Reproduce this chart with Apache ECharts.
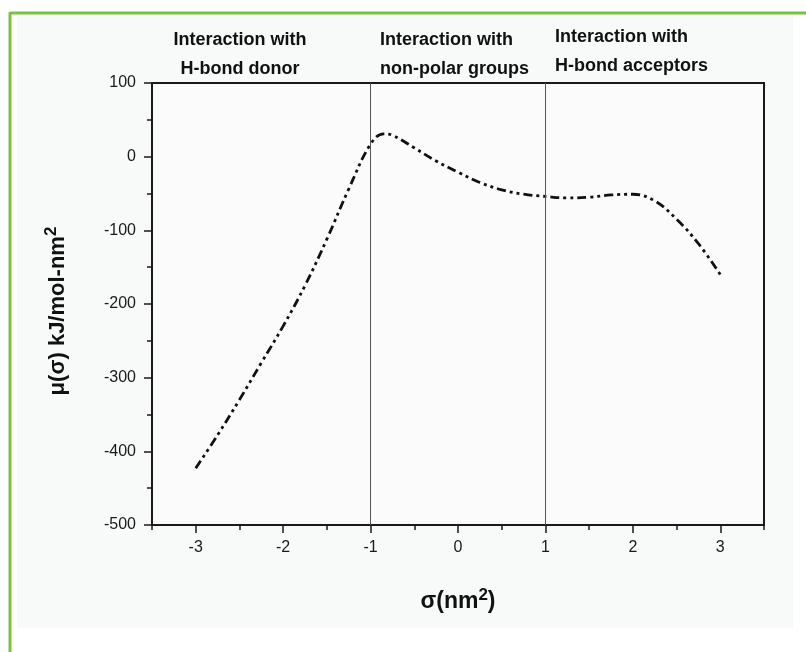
<!DOCTYPE html>
<html>
<head>
<meta charset="utf-8">
<script src="https://cdn.jsdelivr.net/npm/echarts@6/dist/echarts.min.js"></script>
<style>
html,body{margin:0;padding:0;background:#fff;}
#chart{width:806px;height:652px;}
</style>
</head>
<body>
<div id="chart"></div>
<script>
// sigma values (nm^2)
const sigma = [-3, -2.75, -2.5, -2.25, -2, -1.75, -1.5, -1.25, -1, -0.85, -0.75, -0.5, -0.25, 0, 0.25, 0.5, 0.75, 1, 1.25, 1.5, 1.75, 2, 2.25, 2.5, 2.75, 3];
// mu(sigma) kJ/mol-nm^2
const mu = [-423, -378, -330, -280, -230, -175, -112, -44, 17, 31, 29, 12, -6, -21, -35, -45, -51, -54, -56, -55, -52, -51, -60, -85, -118, -160];
const xMajorTicks = [-3, -2, -1, 0, 1, 2, 3];
const xMinorTicks = [-3.5, -2.5, -1.5, -0.5, 0.5, 1.5, 2.5, 3.5];
const regionLines = [-1, 1];
const regionTitles = [
  ['Interaction with', 'H-bond donor'],
  ['Interaction with', 'non-polar groups'],
  ['Interaction with', 'H-bond acceptors']
];

const chart = echarts.init(document.getElementById('chart'), null, {renderer: 'canvas'});
const font = '"Liberation Sans", Arial, sans-serif';
const gridL = 152, gridR = 42, gridT = 83, gridB = 127;

const data = sigma.map((s, i) => [s, mu[i]]);

const baseX = {
  type: 'value', min: -3.5, max: 3.5, position: 'bottom', gridIndex: 0,
  splitLine: {show: false},
  axisLine: {show: true, onZero: false, lineStyle: {color: '#1a1a1a', width: 2}}
};
const titleFont = 'bold 18px ' + font;

chart.setOption({
  backgroundColor: '#ffffff',
  animation: false,
  graphic: [
    {type: 'rect', shape: {x: 17, y: 16, width: 776, height: 612}, style: {fill: '#f8f9f9'}, z: -10},
    {type: 'line', shape: {x1: 10, y1: 13, x2: 806, y2: 13}, style: {stroke: '#7cc142', lineWidth: 3}, z: -5},
    {type: 'line', shape: {x1: 10, y1: 12, x2: 10, y2: 652}, style: {stroke: '#7cc142', lineWidth: 3}, z: -5},
    {type: 'text', x: 240, y: 55, style: {text: regionTitles[0].join('\n'), fill: '#111', font: titleFont, align: 'center', verticalAlign: 'middle', lineHeight: 29}},
    {type: 'text', x: 380, y: 55, style: {text: regionTitles[1].join('\n'), fill: '#111', font: titleFont, align: 'left', verticalAlign: 'middle', lineHeight: 29}},
    {type: 'text', x: 555, y: 52, style: {text: regionTitles[2].join('\n'), fill: '#111', font: titleFont, align: 'left', verticalAlign: 'middle', lineHeight: 29}}
  ],
  grid: {left: gridL, right: gridR, top: gridT, bottom: gridB, show: true, backgroundColor: '#fbfbfb', borderColor: '#1a1a1a', borderWidth: 2},
  xAxis: [
    Object.assign({}, baseX, {
      name: 'σ(nm{sup|2})',
      nameLocation: 'middle', nameGap: 62,
      nameTextStyle: {fontFamily: font, fontSize: 23, fontWeight: 'bold', color: '#111',
        rich: {sup: {fontSize: 17, fontWeight: 'bold', fontFamily: font, verticalAlign: 'top', padding: [0, 0, 12, 0], color: '#111'}}},
      axisTick: {show: true, length: 8, customValues: xMajorTicks, lineStyle: {color: '#1a1a1a', width: 1.5}},
      axisLabel: {show: true, customValues: xMajorTicks, margin: 15, fontFamily: font, fontSize: 16, color: '#1a1a1a'}
    }),
    Object.assign({}, baseX, {
      axisTick: {show: true, length: 5, customValues: xMinorTicks, lineStyle: {color: '#1a1a1a', width: 1.5}},
      axisLabel: {show: false}
    })
  ],
  yAxis: {
    type: 'value', min: -500, max: 100, interval: 100,
    name: 'μ(σ) kJ/mol-nm{sup|2}',
    nameLocation: 'middle', nameGap: 80, nameRotate: 90,
    nameTextStyle: {fontFamily: font, fontSize: 22, fontWeight: 'bold', color: '#111', padding: [0, 14, 0, 0],
      rich: {sup: {fontSize: 17, fontWeight: 'bold', fontFamily: font, color: '#111', padding: [0, 0, 12, 0]}}},
    splitLine: {show: false},
    axisLine: {show: true, onZero: false, lineStyle: {color: '#1a1a1a', width: 2}},
    axisTick: {show: true, length: 8, lineStyle: {color: '#1a1a1a', width: 1.5}},
    minorTick: {show: true, splitNumber: 2, length: 5, lineStyle: {color: '#1a1a1a', width: 1.5}},
    axisLabel: {margin: 16, fontFamily: font, fontSize: 16, color: '#1a1a1a'}
  },
  series: [{
    type: 'line',
    data: data,
    smooth: 0.4,
    symbol: 'none',
    lineStyle: {color: '#111', width: 2.8, type: [9, 4, 3, 4, 3, 4]},
    markLine: {
      silent: true, symbol: 'none', label: {show: false},
      lineStyle: {color: '#555', width: 1, type: 'solid'},
      data: regionLines.map(v => ({xAxis: v}))
    }
  }]
});
</script>
</body>
</html>
